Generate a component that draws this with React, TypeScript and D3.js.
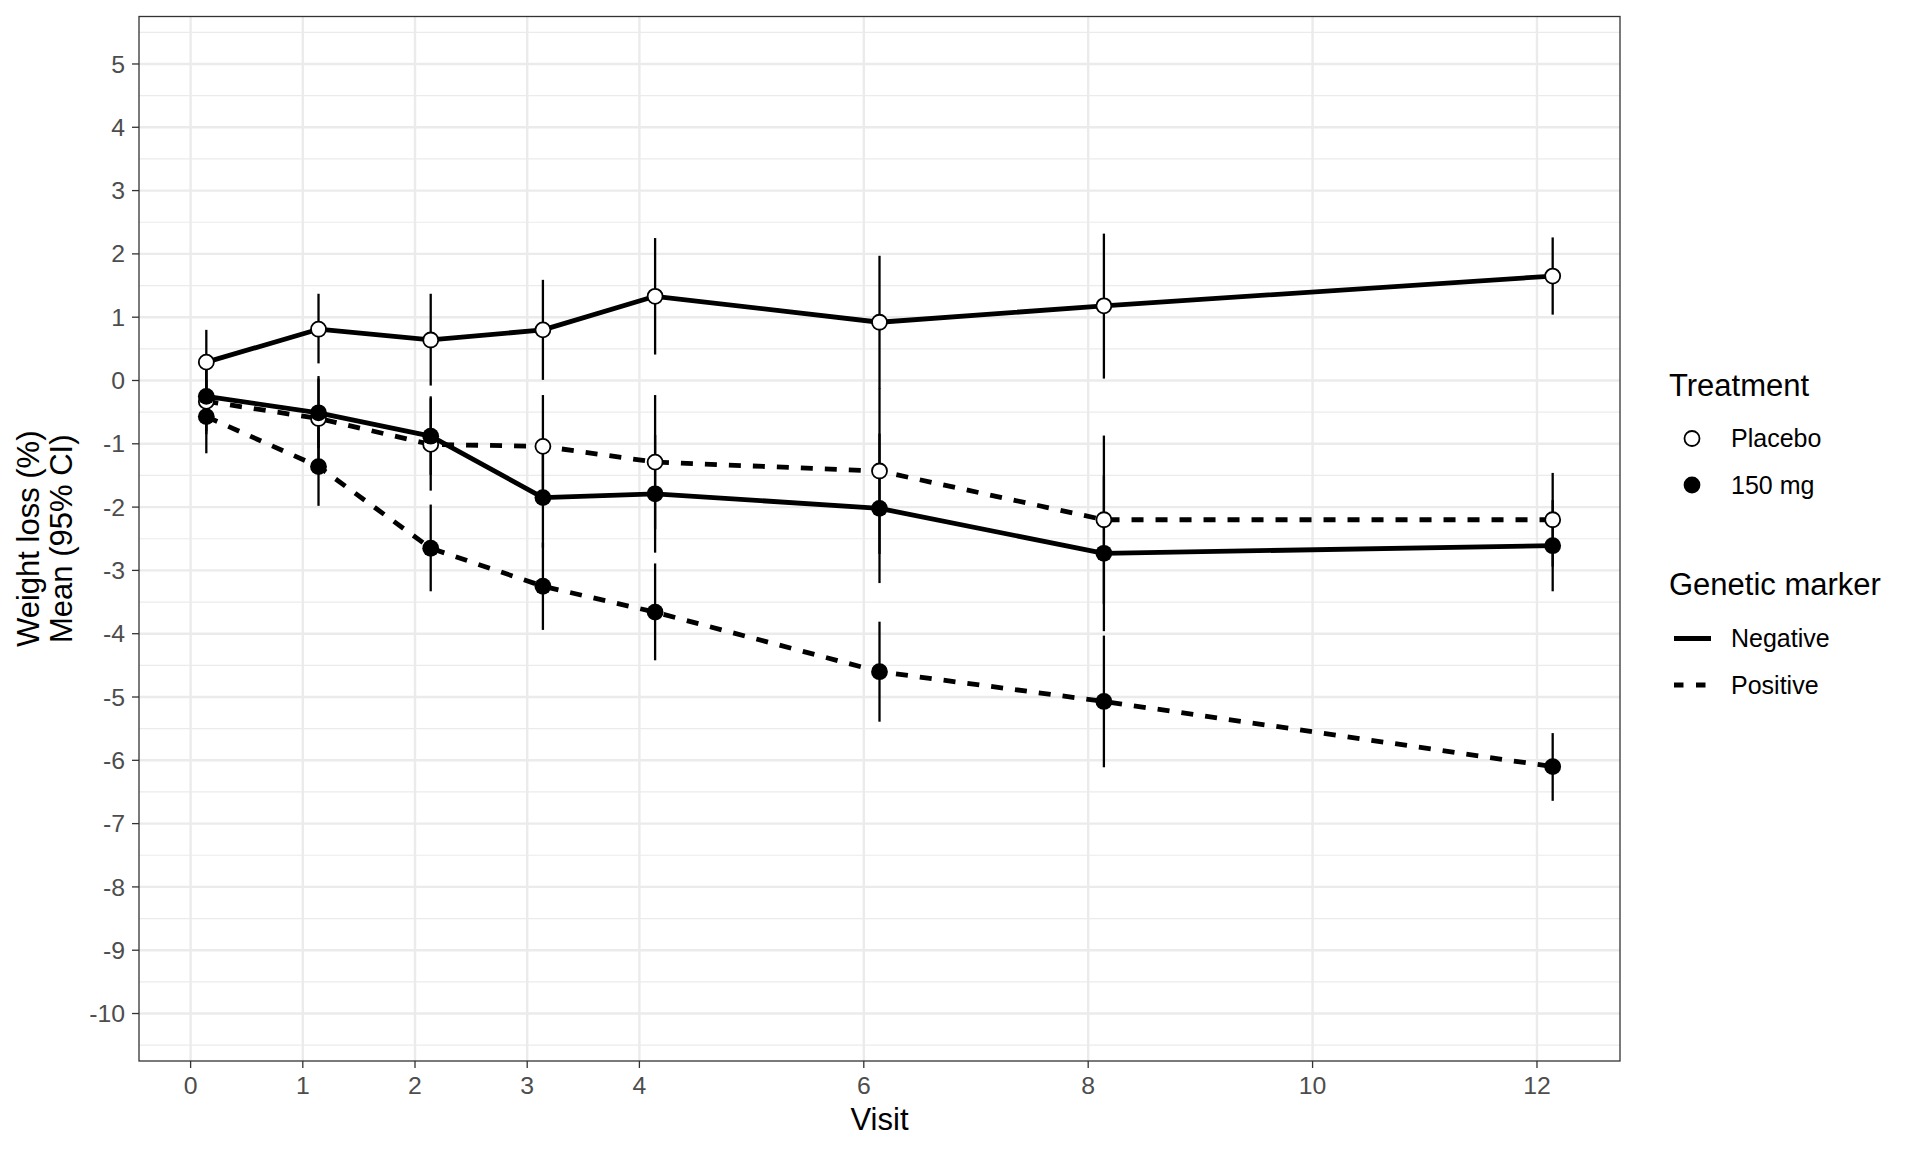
import React from "react";
import * as d3 from "d3";

// ---------- data ----------
const visits = [0, 1, 2, 3, 4, 6, 8, 12];
const xTickValues = [0, 1, 2, 3, 4, 6, 8, 10, 12];
const yTickValues = [5, 4, 3, 2, 1, 0, -1, -2, -3, -4, -5, -6, -7, -8, -9, -10];

const treatments = ["Placebo", "150 mg"];
const markers = ["Negative", "Positive"];

// Placebo, Negative
const placeboNegMean = [0.29, 0.81, 0.64, 0.8, 1.33, 0.92, 1.18, 1.65];
const placeboNegLower = [-0.22, 0.27, -0.08, 0.01, 0.41, -0.13, 0.03, 1.04];
const placeboNegUpper = [0.8, 1.37, 1.37, 1.59, 2.25, 1.97, 2.32, 2.26];
// Placebo, Positive
const placeboPosMean = [-0.33, -0.6, -1.01, -1.04, -1.29, -1.43, -2.2, -2.2];
const placeboPosLower = [-0.85, -1.27, -1.74, -1.85, -2.35, -2.74, -3.53, -2.94];
const placeboPosUpper = [0.19, 0.07, -0.28, -0.23, -0.23, -0.12, -0.87, -1.46];
// 150 mg, Negative
const dose150NegMean = [-0.25, -0.51, -0.88, -1.85, -1.79, -2.02, -2.73, -2.61];
const dose150NegLower = [-0.8, -1.07, -1.49, -2.64, -2.72, -3.2, -3.96, -3.33];
const dose150NegUpper = [0.3, 0.03, -0.25, -1.06, -0.86, -0.84, -1.5, -1.89];
// 150 mg, Positive
const dose150PosMean = [-0.57, -1.36, -2.65, -3.25, -3.66, -4.6, -5.07, -6.1];
const dose150PosLower = [-1.15, -1.98, -3.33, -3.94, -4.42, -5.39, -6.11, -6.64];
const dose150PosUpper = [0.01, -0.74, -1.96, -2.56, -2.89, -3.81, -4.03, -5.57];

const seriesList = [
  { treatment: treatments[0], marker: markers[0], mean: placeboNegMean, lower: placeboNegLower, upper: placeboNegUpper },
  { treatment: treatments[0], marker: markers[1], mean: placeboPosMean, lower: placeboPosLower, upper: placeboPosUpper },
  { treatment: treatments[1], marker: markers[0], mean: dose150NegMean, lower: dose150NegLower, upper: dose150NegUpper },
  { treatment: treatments[1], marker: markers[1], mean: dose150PosMean, lower: dose150PosLower, upper: dose150PosUpper },
];

// ---------- layout ----------
const W = 1920;
const H = 1152;
const panel = { left: 139, right: 1620, top: 16.5, bottom: 1061 };
const DODGE = 0.14;
const FONT = "'Liberation Sans', Arial, Helvetica, sans-serif";
const DASH = "12,12";
const LINE_W = 4.8;

export default function App() {
  const xs = visits.map((v) => v + DODGE);
  const xMin = d3.min(xs) as number;
  const xMax = d3.max(xs) as number;
  const xPad = (xMax - xMin) * 0.05;
  const x = d3.scaleLinear().domain([xMin - xPad, xMax + xPad]).range([panel.left, panel.right]);

  const yLo = -10, yHi = 5;
  const yPad = (yHi - yLo) * 0.05;
  const y = d3.scaleLinear().domain([yLo - yPad, yHi + yPad]).range([panel.bottom, panel.top]);

  const yMinor = d3.range(yLo - 0.5, yHi + 1, 1);

  const line = d3
    .line<number>()
    .x((_, i) => x(visits[i] + DODGE))
    .y((d) => y(d));

  const midY = (panel.top + panel.bottom) / 2;
  const midX = (panel.left + panel.right) / 2;

  return (
    <svg
      width={W}
      height={H}
      style={{ position: "absolute", left: 0, top: 0, display: "block", background: "#fff" }}
      fontFamily={FONT}
    >
      <rect x={0} y={0} width={W} height={H} fill="#fff" />
      {/* grid */}
      <g>
        {yMinor.map((v) => (
          <line key={"ym" + v} x1={panel.left} x2={panel.right} y1={y(v)} y2={y(v)} stroke="#EBEBEB" strokeWidth={1.2} />
        ))}
        {yTickValues.map((v) => (
          <line key={"yM" + v} x1={panel.left} x2={panel.right} y1={y(v)} y2={y(v)} stroke="#EBEBEB" strokeWidth={2.4} />
        ))}
        {xTickValues.map((v) => (
          <line key={"xM" + v} y1={panel.top} y2={panel.bottom} x1={x(v)} x2={x(v)} stroke="#EBEBEB" strokeWidth={2.4} />
        ))}
      </g>

      {/* error bars */}
      <g>
        {seriesList.map((s, si) =>
          visits.map((v, i) => (
            <line
              key={"eb" + si + "-" + i}
              x1={x(v + DODGE)}
              x2={x(v + DODGE)}
              y1={y(s.lower[i])}
              y2={y(s.upper[i])}
              stroke="#000"
              strokeWidth={2.3}
            />
          ))
        )}
      </g>

      {/* lines */}
      <g>
        {seriesList.map((s, si) => (
          <path
            key={"ln" + si}
            d={line(s.mean) || ""}
            fill="none"
            stroke="#000"
            strokeWidth={LINE_W}
            strokeDasharray={s.marker === "Positive" ? DASH : undefined}
            strokeLinejoin="round"
          />
        ))}
      </g>

      {/* points */}
      <g>
        {seriesList.map((s, si) =>
          s.mean.map((m, i) =>
            s.treatment === "Placebo" ? (
              <circle key={"pt" + si + "-" + i} cx={x(visits[i] + DODGE)} cy={y(m)} r={7.5} fill="#fff" stroke="#000" strokeWidth={1.8} />
            ) : (
              <circle key={"pt" + si + "-" + i} cx={x(visits[i] + DODGE)} cy={y(m)} r={8.4} fill="#000" />
            )
          )
        )}
      </g>

      {/* panel border */}
      <rect
        x={panel.left}
        y={panel.top}
        width={panel.right - panel.left}
        height={panel.bottom - panel.top}
        fill="none"
        stroke="#333333"
        strokeWidth={1.3}
      />

      {/* y axis */}
      <g>
        {yTickValues.map((v) => (
          <g key={"yt" + v}>
            <line x1={panel.left - 7} x2={panel.left} y1={y(v)} y2={y(v)} stroke="#333333" strokeWidth={1.3} />
            <text x={panel.left - 14} y={y(v) + 8.6} textAnchor="end" fontSize={24.8} fill="#4D4D4D">
              {String(v)}
            </text>
          </g>
        ))}
      </g>

      {/* x axis */}
      <g>
        {xTickValues.map((v) => (
          <g key={"xt" + v}>
            <line x1={x(v)} x2={x(v)} y1={panel.bottom} y2={panel.bottom + 7} stroke="#333333" strokeWidth={1.3} />
            <text x={x(v)} y={1094} textAnchor="middle" fontSize={24.8} fill="#4D4D4D">
              {String(v)}
            </text>
          </g>
        ))}
      </g>

      {/* axis titles */}
      <text x={midX} y={1130} textAnchor="middle" fontSize={31} fill="#000">
        Visit
      </text>
      <g transform={`translate(39, ${midY}) rotate(-90)`}>
        <text x={0} y={0} textAnchor="middle" fontSize={31} fill="#000">
          Weight loss (%)
        </text>
      </g>
      <g transform={`translate(71.5, ${midY}) rotate(-90)`}>
        <text x={0} y={0} textAnchor="middle" fontSize={31} fill="#000">
          Mean (95% CI)
        </text>
      </g>

      {/* legend: Treatment */}
      <text x={1669} y={395.5} fontSize={31} fill="#000">
        Treatment
      </text>
      {treatments.map((t, i) => {
        const cy = 438.5 + i * 46.5;
        return (
          <g key={"lt" + t}>
            {t === "Placebo" ? (
              <circle cx={1692} cy={cy} r={7.5} fill="#fff" stroke="#000" strokeWidth={1.8} />
            ) : (
              <circle cx={1692} cy={cy} r={8.4} fill="#000" />
            )}
            <text x={1731} y={cy + 8.8} fontSize={25} fill="#000">
              {t}
            </text>
          </g>
        );
      })}

      {/* legend: Genetic marker */}
      <text x={1669} y={594.5} fontSize={31} fill="#000">
        Genetic marker
      </text>
      {markers.map((m, i) => {
        const cy = 638.5 + i * 46.5;
        return (
          <g key={"lm" + m}>
            <line
              x1={1674}
              x2={m === "Positive" ? 1707.5 : 1711}
              y1={cy}
              y2={cy}
              stroke="#000"
              strokeWidth={LINE_W}
              strokeDasharray={m === "Positive" ? "9.5,12.5" : undefined}
            />
            <text x={1731} y={cy + 8.8} fontSize={25} fill="#000">
              {m}
            </text>
          </g>
        );
      })}
    </svg>
  );
}
